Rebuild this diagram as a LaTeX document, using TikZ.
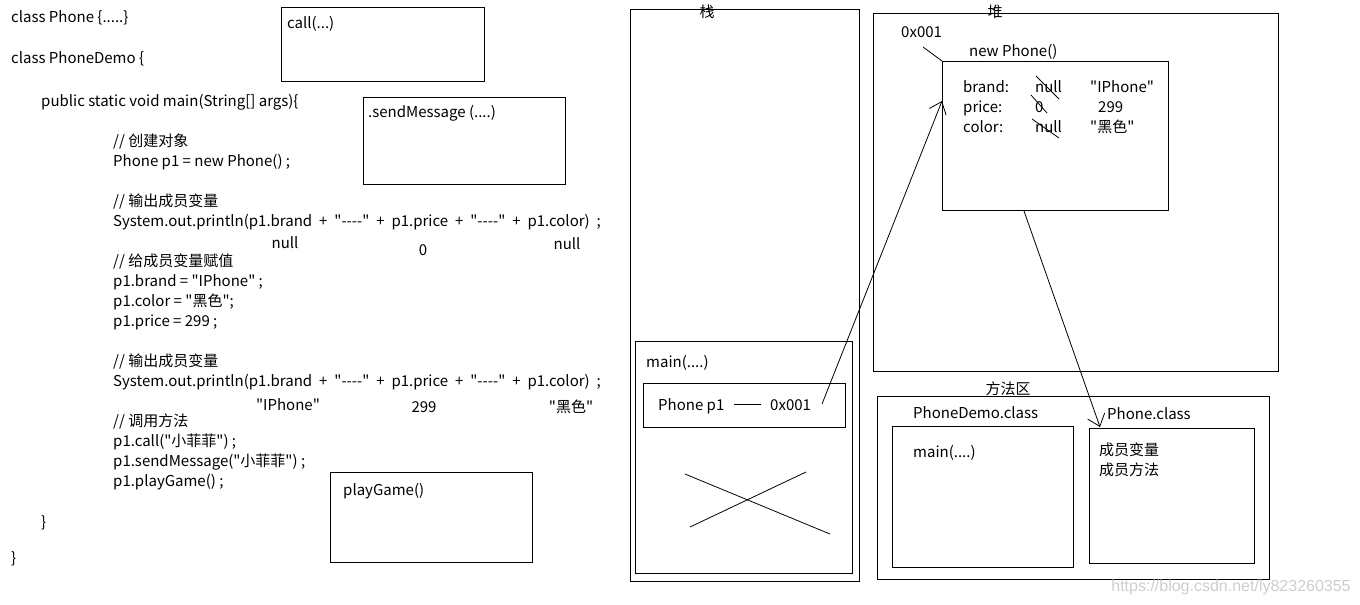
\documentclass[tikz,border=0pt]{standalone}
\usepackage{fontspec}
\setmainfont{Noto Sans CJK SC}[Ligatures=TeXOff]
\newfontfamily\wmfont{Liberation Sans}
\usetikzlibrary{arrows.meta}
\definecolor{wmgray}{RGB}{205,205,205}
\newcommand\widespacing{\spaceskip=6.9pt\relax}
\begin{document}
\begin{tikzpicture}[x=1pt,y=-1pt,
  txt/.style={anchor=west,inner sep=0pt,text height=12pt,text depth=2pt,font=\fontsize{15}{18}\selectfont},
  ctxt/.style={txt,anchor=center},
  box/.style={draw,line width=1pt,anchor=north west,inner sep=0pt},
  thinline/.style={line width=0.8pt},
  arr/.style={thinline,-{Straight Barb[length=11pt,width=18pt,line width=0.8pt]}}
]
\useasboundingbox (0,0) rectangle (1360,605);

% ---------- code on the left ----------
\node[txt] (c1) at (11,18) {class Phone \{.....\}};
\node[txt] (c2) at (11,58) {class PhoneDemo \{};
\node[txt] (c3) at (41,101) {public static void main(String[] args)\{};
\node[txt] (c4) at (113,141) {// 创建对象};
\node[txt] (c5) at (113,161) {Phone p1 = new Phone() ;};
\node[txt] (c6) at (113,201) {// 输出成员变量};
\node[txt] (c7) at (113,221) {\widespacing System.out.println(p1.brand + "----" + p1.price + "----" + p1.color) ;};
\node[ctxt] (v1) at (285,243) {null};
\node[ctxt] (v2) at (423,250) {0};
\node[ctxt] (v3) at (567,244) {null};
\node[txt] (c8) at (113,261) {// 给成员变量赋值};
\node[txt] (c9) at (113,281) {p1.brand = "IPhone" ;};
\node[txt] (c10) at (113,301) {p1.color = "黑色";};
\node[txt] (c11) at (113,321) {p1.price = 299 ;};
\node[txt] (c12) at (113,361) {// 输出成员变量};
\node[txt] (c13) at (113,381) {\widespacing System.out.println(p1.brand + "----" + p1.price + "----" + p1.color) ;};
\node[ctxt] (w1) at (288,405) {"IPhone"};
\node[ctxt] (w2) at (424,407) {299};
\node[ctxt] (w3) at (571,407) {"黑色"};
\node[txt] (c14) at (113,421) {// 调用方法};
\node[txt] (c15) at (113,441) {p1.call("小菲菲") ;};
\node[txt] (c16) at (113,461) {p1.sendMessage("小菲菲") ;};
\node[txt] (c17) at (113,481) {p1.playGame() ;};
\node[txt] (c18) at (41,522) {\}};
\node[txt] (c19) at (11,558) {\}};

% ---------- method boxes ----------
\node[box,minimum width=203pt,minimum height=74pt] (callbox) at (281,7) {};
\node[txt] (calltxt) at (287,23) {call(...)};
\node[box,minimum width=202pt,minimum height=87pt] (sendbox) at (363,97) {};
\node[txt] (sendtxt) at (368,112) {.sendMessage (....)};
\node[box,minimum width=202pt,minimum height=90pt] (playbox) at (330,472) {};
\node[txt] (playtxt) at (343,490) {playGame()};

% ---------- stack ----------
\node[box,minimum width=229pt,minimum height=572pt] (stack) at (630,9) {};
\node[ctxt] (stacklbl) at (707,12) {栈};
\node[box,minimum width=217pt,minimum height=232pt] (mainframe) at (635,341) {};
\node[txt] (maintxt) at (646,362) {main(....)};
\node[box,minimum width=202pt,minimum height=44pt] (p1box) at (643,383) {};
\node[txt] (p1txt) at (658,405) {Phone p1};
\node[txt] (p1addr) at (770,405) {0x001};
\coordinate (dashA) at (734,404);
\coordinate (dashB) at (761,404);
\draw[thinline] (dashA) -- (dashB);
\coordinate (xa1) at (685,474);
\coordinate (xa2) at (830,534);
\coordinate (xb1) at (690,527);
\coordinate (xb2) at (806,472);
\draw[thinline] (xa1) -- (xa2);
\draw[thinline] (xb1) -- (xb2);

% ---------- heap ----------
\node[box,minimum width=405pt,minimum height=358pt] (heap) at (873,13) {};
\node[ctxt] (heaplbl) at (995,12) {堆};
\node[txt] (heapaddr) at (901,32) {0x001};
\node[txt] (newtxt) at (969,51) {new Phone()};
\node[box,minimum width=226pt,minimum height=149pt] (heapobj) at (942,61) {};
\node[txt] (f1) at (963,87) {brand:};
\node[txt] (f2) at (963,107) {price:};
\node[txt] (f3) at (963,127) {color:};
\node[txt] (o1) at (1035,87) {null};
\node[txt] (o2) at (1035,107) {0};
\node[txt] (o3) at (1035,127) {null};
\node[txt] (n1) at (1090,87) {"IPhone"};
\node[txt] (n2) at (1098,107) {299};
\node[txt] (n3) at (1090,127) {"黑色"};
\draw[thinline] (1036,76) -- (1059,99);
\draw[thinline] (1031,95) -- (1047,113);
\draw[thinline] (1032,119) -- (1059,138);
\coordinate (addrline) at (923,47);
\draw[thinline] (addrline) -- (heapobj.north west);

% ---------- method area ----------
\node[box,minimum width=392pt,minimum height=183pt] (method) at (877,396) {};
\node[ctxt] (methodlbl) at (1008,389) {方法区};
\node[txt] (demotxt) at (913,413) {PhoneDemo.class};
\node[box,minimum width=181pt,minimum height=141pt] (demobox) at (892,426) {};
\node[txt] (demomain) at (913,452) {main(....)};
\node[txt] (phonetxt) at (1107,414) {Phone.class};
\node[box,minimum width=165pt,minimum height=135pt] (phonebox) at (1089,428) {};
\node[txt] (mv) at (1099,450) {成员变量};
\node[txt] (mm) at (1099,470) {成员方法};

% ---------- references ----------
\coordinate (refstart) at (822,404);
\coordinate (reftip) at (942,101);
\draw[arr] (refstart) -- (reftip);
\coordinate (clsstart) at (1024,211);
\coordinate (clstip) at (1100,427);
\draw[arr] (clsstart) -- (clstip);

% ---------- watermark ----------
\node[anchor=center,inner sep=0pt,text=wmgray,font=\wmfont\fontsize{16}{18}\selectfont] (wm) at (1231,587) {https://blog.csdn.net/ly823260355};
\end{tikzpicture}
\end{document}
